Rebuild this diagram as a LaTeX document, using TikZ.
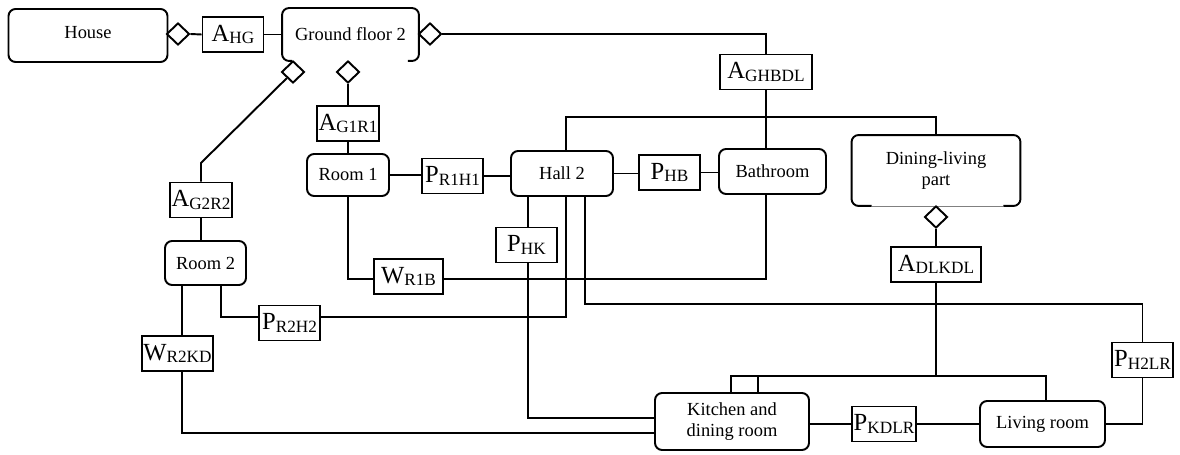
\documentclass[tikz,border=0pt]{standalone}
\usepackage{fontspec}
\setmainfont{Liberation Serif}
\usetikzlibrary{shapes.geometric}
\newcommand{\roomfont}{\fontsize{10.5}{12}\selectfont}
\newcommand{\sublbl}[2]{{\fontsize{14}{15}\selectfont #1}\raisebox{-1.5pt}{\fontsize{9.8}{10}\selectfont #2}}

\begin{document}
\begin{tikzpicture}[x=0.02cm, y=-0.02cm,
	room/.style={draw, rounded corners=4pt, line width=1.1pt, align=center, font=\roomfont, inner sep=1pt},
	rel/.style={draw, line width=1.1pt, minimum width=1.22cm, minimum height=0.7cm, inner sep=1pt},
	agg/.style={draw, diamond, fill=white, line width=1.1pt, minimum width=0.46cm, minimum height=0.44cm, inner sep=0pt},
	link/.style={line width=1.1pt}]
	\useasboundingbox (0,0) rectangle (1180,455);
	% top row
	\node[room, minimum width=3.18cm, minimum height=1.06cm] (house) at (88,35.5) {\raisebox{4pt}{House}};
	\node[agg] (hd) at (178,34) {};
	\node[rel] (ahg) at (233,34.5) {\sublbl{A}{HG}};
	\node[room, draw=none, minimum width=2.7cm, minimum height=1.02cm] (gf) at (350.5,34.5) {Ground floor 2};
	\draw[link, rounded corners=4pt] ([xshift=2mm]gf.south west) -- (gf.south west) -- (gf.north west) -- (gf.north east) -- (gf.south east) -- ([xshift=-2.2mm]gf.south east);
	\node[agg] (gdr) at (430,34) {};
	\node[agg] (gdb) at (348,72) {};
	\node[agg] (gdl) at (293,72) {};
	\node[rel, minimum width=1.84cm] (aghbdl) at (766,72) {\sublbl{A}{GHBDL}};
	% rooms
	\node[rel] (ag1r1) at (348,123.5) {\sublbl{A}{G1R1}};
	\node[room, minimum width=1.64cm, minimum height=0.84cm] (room1) at (348,175) {Room 1};
	\node[rel] (pr1h1) at (452.5,176) {\sublbl{P}{R1H1}};
	\node[room, minimum width=2.04cm, minimum height=0.9cm] (hall) at (562,173.5) {Hall 2};
	\node[rel] (phb) at (669.5,172.5) {\sublbl{P}{HB}};
	\node[room, minimum width=2.14cm, minimum height=0.9cm] (bath) at (772.5,171.5) {Bathroom};
	\node[room, draw=none, minimum width=3.34cm, minimum height=1.38cm] (dl) at (936,170.5) {Dining-living\\part};
	\draw[link, rounded corners=4pt] ([xshift=4mm]dl.south west) -- (dl.south west) -- (dl.north west) -- (dl.north east) -- (dl.south east) -- ([xshift=-3.4mm]dl.south east);
	\draw[gray, thin] ([xshift=4mm]dl.south west) -- ([xshift=-3.4mm]dl.south east);
	\node[agg] (dd) at (936,217) {};
	\node[rel, minimum width=1.8cm] (adlkdl) at (936,264.5) {\sublbl{A}{DLKDL}};
	\node[rel] (ag2r2) at (201,200) {\sublbl{A}{G2R2}};
	\node[room, minimum width=1.62cm, minimum height=0.88cm] (room2) at (205.5,263) {Room 2};
	\node[rel, minimum width=1.38cm] (wr2kd) at (177.5,353.5) {\sublbl{W}{R2KD}};
	\node[rel] (pr2h2) at (289.5,323) {\sublbl{P}{R2H2}};
	\node[rel, minimum width=1.38cm] (wr1b) at (408.5,276.5) {\sublbl{W}{R1B}};
	\node[rel] (phk) at (526.5,245) {\sublbl{P}{HK}};
	\node[room, minimum width=3.08cm, minimum height=1.14cm] (kitchen) at (732,421.5) {Kitchen and\\dining room};
	\node[rel] (pkdlr) at (884,424) {\sublbl{P}{KDLR}};
	\node[room, minimum width=2.5cm, minimum height=0.92cm] (living) at (1042.5,424) {Living room};
	\node[rel] (ph2lr) at (1142.5,360) {\sublbl{P}{H2LR}};
	\coordinate (bus) at (766,117);
	\coordinate (kink) at (201,163);
	\coordinate (kbus) at (936,376);
	% connectors
	\draw[link] (hd.east) -- (ahg.west);
	\draw[link] (ahg.east) -- (ahg.east -| gf.west);
	\draw[link] (gdr.east) -| (aghbdl.north);
	\draw[link] (aghbdl.south) -- (aghbdl.south |- bath.north);
	\draw[link] (566,0 |- hall.north) |- (bus) -| (dl.north);
	\draw[link] (gdb.south) -- (ag1r1.north);
	\draw[link] (ag1r1.south) -- (room1.north);
	\draw[link] (room1.east) -- (room1.east -| pr1h1.west);
	\draw[link] (pr1h1.east) -- (pr1h1.east -| hall.west);
	\draw[link] (hall.east) -- (hall.east -| phb.west);
	\draw[link] (phb.east) -- (phb.east -| bath.west);
	\draw[link] (ag2r2.north) -- (kink) -- (gdl);
	\draw[link] (ag2r2.south) -- (ag2r2.south |- room2.north);
	\draw[link] (182,0 |- room2.south) -- (182,0 |- wr2kd.north);
	\draw[link] (182,0 |- wr2kd.south) |- (kitchen.west |- 0,433);
	\draw[link] (221,0 |- room2.south) |- (pr2h2.west |- 0,317);
	\draw[link] (pr2h2.east |- 0,317) -| (566,0 |- hall.south);
	\draw[link] (room1.south) |- (wr1b.west |- 0,279);
	\draw[link] (wr1b.east |- 0,279) -| (aghbdl.south |- bath.south);
	\draw[link] (528,0 |- hall.south) -- (528,0 |- phk.north);
	\draw[link] (528,0 |- phk.south) |- (kitchen.west |- 0,418);
	\draw[link] (585,0 |- hall.south) |- (ph2lr.north |- 0,304) -- (ph2lr.north);
	\draw[link] (ph2lr.south) |- (living.east);
	\draw[link] (dd.south) -- (adlkdl.north);
	\draw[link] (adlkdl.south) -- (kbus);
	\draw[link] (731,0 |- kitchen.north) |- (kbus) -| (living.north -| 1046,0);
	\draw[link] (758,0 |- kitchen.north) -- (758,0 |- kbus);
	\draw[link] (kitchen.east |- pkdlr.west) -- (pkdlr.west);
	\draw[link] (pkdlr.east) -- (living.west);
\end{tikzpicture}
\end{document}
